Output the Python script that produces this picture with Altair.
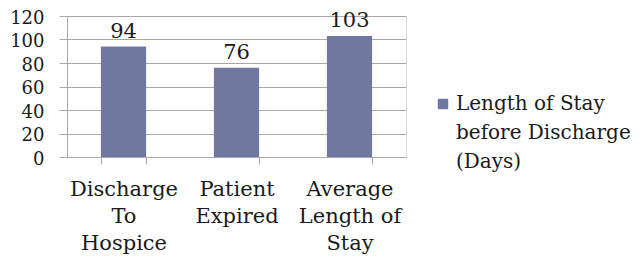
import altair as alt
import pandas as pd

categories = ["Discharge|To|Hospice", "Patient|Expired", "Average|Length of|Stay"]
values = [94, 76, 103]
series_name = "Length of Stay|before Discharge|(Days)"
y_ticks = [0, 20, 40, 60, 80, 100, 120]

df = pd.DataFrame({"cat": categories, "val": values, "series": [series_name] * 3})

FONT = "DejaVu Serif"
BAR = "#7078A0"
GRID = "#a8a8a8"

y_axis = alt.Axis(values=y_ticks, labelFont=FONT, labelFontSize=18,
                  labelColor="#1a1a1a", tickSize=8, tickColor=GRID,
                  labelOverlap=False, labelLineHeight=18, labelOffset=2,
                  domainColor=GRID, gridColor=GRID, labelPadding=15)

base = alt.Chart(df).encode(
    x=alt.X("cat:N", sort=categories, title=None,
            scale=alt.Scale(paddingInner=0.6, paddingOuter=0.3),
            axis=alt.Axis(labelExpr="split(datum.label, '|')", labelAngle=0,
                          labelFont=FONT, labelFontSize=21, labelColor="#1a1a1a",
                          labelLineHeight=27, labelBaseline="top", labelPadding=14,
                          tickBand="extent", tickSize=7, tickColor=GRID,
                          domainColor=GRID, grid=False, labelLimit=300)),
)

bars = base.mark_bar(color=BAR).encode(
    y=alt.Y("val:Q", title=None, scale=alt.Scale(domain=[0, 120]), axis=y_axis),
    color=alt.Color("series:N", scale=alt.Scale(range=[BAR]),
                    legend=alt.Legend(title=None, orient="none", legendX=366, legendY=78,
                                      labelExpr="split(datum.label, '|')",
                                      labelFont=FONT, labelFontSize=20, labelColor="#1a1a1a",
                                      labelLimit=400, symbolType="square", symbolSize=110,
                                      symbolStrokeWidth=0, labelOffset=3)),
)

labels = base.mark_text(dy=-15, font=FONT, fontSize=21, color="#1a1a1a").encode(
    y=alt.Y("val:Q", axis=y_axis), text="val:Q"
)

chart = (bars + labels).properties(
    width=339, height=141,
    autosize=alt.AutoSizeParams(type="none"),
    padding={"left": 59, "top": 8, "right": 230, "bottom": 99},
).configure_view(stroke=None).configure_axis(labelOverlap=False).configure(
    style={"guide-label": {"lineHeight": 29}}
)

chart.save("out.html", embed_options={"renderer": "svg", "actions": False})
